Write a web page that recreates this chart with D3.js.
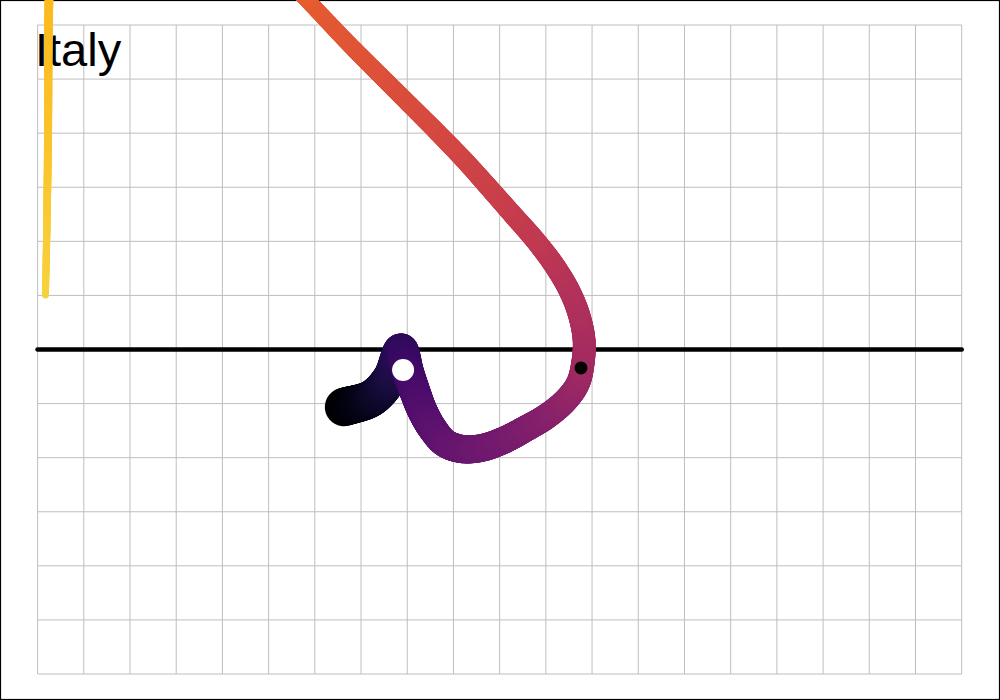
<!DOCTYPE html>
<html>
<head>
<meta charset="utf-8">
<script src="https://cdn.jsdelivr.net/npm/d3@7"></script>
<style>
  html, body { margin: 0; padding: 0; background: #ffffff; }
  svg { display: block; }
</style>
</head>
<body>
<svg id="chart" width="1000" height="700"></svg>
<script>
// ---- data (grid units) ----
const title = "Italy";
const gridX = d3.range(0, 21);          // vertical grid lines
const gridY = d3.range(-6, 7);          // horizontal grid lines
const zeroLine = [0];
// trajectory points (x, y) and their time position on the colour scale
const trajX = [6.632, 7.238, 7.628, 7.866, 8.017, 8.169, 8.320, 8.537, 8.818, 9.186, 9.597, 10.052, 10.550, 11.026, 11.437, 11.697, 11.805, 11.827, 11.719, 11.502, 11.177, 10.766, 10.290, 9.814, 9.251, 8.667, 7.736, 6.762, 5.831, 5.182, 4.165, 2.433, 0.918, 0.312, 0.247, 0.225, 0.203, 0.171];
const trajY = [-1.063, -0.897, -0.527, -0.009, -0.416, -0.786, -1.119, -1.452, -1.729, -1.840, -1.822, -1.692, -1.470, -1.230, -0.934, -0.620, -0.231, 0.176, 0.638, 1.100, 1.563, 2.025, 2.487, 2.949, 3.486, 4.003, 4.798, 5.630, 6.463, 7.018, 7.942, 8.866, 8.681, 7.572, 6.463, 3.929, 2.432, 1.008];
const trajT = [0.00, 0.05, 0.10, 0.15, 0.19, 0.215, 0.235, 0.255, 0.275, 0.29, 0.305, 0.32, 0.34, 0.36, 0.385, 0.41, 0.43, 0.445, 0.46, 0.475, 0.49, 0.51, 0.525, 0.54, 0.555, 0.57, 0.59, 0.61, 0.63, 0.66, 0.70, 0.75, 0.79, 0.82, 0.84, 0.86, 0.875, 0.89];
// marker dots
const markerX = [7.91, 11.76];
const markerY = [-0.38, -0.34];
const markerFill = ["#ffffff", "#000000"];
const markerR = [11, 6.5];

// ---- scales ----
const svg = d3.select("#chart");
const x = d3.scaleLinear().domain([0, 20]).range([37.6, 961.7]);
const y = d3.scaleLinear().domain([-6, 6]).range([674, 25]);
const colour = d3.interpolateInferno;
const width = d3.scaleLinear().domain([0, 0.89]).range([38.5, 6.9]).clamp(true);

// outer frame
svg.append("rect").attr("x", 0.5).attr("y", 0.5).attr("width", 999).attr("height", 699)
  .attr("fill", "#ffffff").attr("stroke", "#000000").attr("stroke-width", 1.2);

// grid
const grid = svg.append("g").attr("stroke", "#bebebe").attr("stroke-width", 1);
grid.selectAll("line.v").data(gridX).join("line").attr("class", "v")
  .attr("x1", d => x(d)).attr("x2", d => x(d)).attr("y1", y(6)).attr("y2", y(-6));
grid.selectAll("line.h").data(gridY).join("line").attr("class", "h")
  .attr("y1", d => y(d)).attr("y2", d => y(d)).attr("x1", x(0)).attr("x2", x(20));

// zero line
svg.selectAll("line.zero").data(zeroLine).join("line").attr("class", "zero")
  .attr("x1", x(0)).attr("x2", x(20)).attr("y1", d => y(d)).attr("y2", d => y(d))
  .attr("stroke", "#000000").attr("stroke-width", 4.6).attr("stroke-linecap", "round");

// title
svg.append("text").attr("x", 35).attr("y", 66).text(title)
  .attr("font-family", "'Liberation Sans', Arial, sans-serif").attr("font-size", 47).attr("fill", "#000000");

// trajectory: centripetal Catmull-Rom through the read points, drawn as short pieces
const pts = trajX.map((d, i) => [x(d), y(trajY[i]), trajT[i]]);
const n = pts.length;
const ext = (a, b) => [2 * a[0] - b[0], 2 * a[1] - b[1]];
const lerp = (a, b, ta, tb, t) => {
  const k = (t - ta) / (tb - ta);
  return [a[0] + (b[0] - a[0]) * k, a[1] + (b[1] - a[1]) * k];
};
function centripetal(P0, P1, P2, P3, u) {
  const d = (a, b) => Math.pow(Math.hypot(b[0] - a[0], b[1] - a[1]), 0.5) || 1e-6;
  const t0 = 0, t1 = t0 + d(P0, P1), t2 = t1 + d(P1, P2), t3 = t2 + d(P2, P3);
  const t = t1 + (t2 - t1) * u;
  const A1 = lerp(P0, P1, t0, t1, t), A2 = lerp(P1, P2, t1, t2, t), A3 = lerp(P2, P3, t2, t3, t);
  const B1 = lerp(A1, A2, t0, t2, t), B2 = lerp(A2, A3, t1, t3, t);
  return lerp(B1, B2, t1, t2, t);
}
const pieces = [];
for (let i = 0; i < n - 1; i++) {
  const p1 = pts[i], p2 = pts[i + 1];
  const p0 = i > 0 ? pts[i - 1] : ext(p1, p2);
  const p3 = i + 2 < n ? pts[i + 2] : ext(p2, p1);
  const L = Math.hypot(p2[0] - p1[0], p2[1] - p1[1]);
  const steps = Math.max(2, Math.ceil(L / 1.5));
  let prev = [p1[0], p1[1]];
  for (let s = 1; s <= steps; s++) {
    const u = s / steps;
    const cur = centripetal(p0, p1, p2, p3, u);
    const t = p1[2] + (p2[2] - p1[2]) * (u - 0.5 / steps);
    pieces.push({ x1: prev[0], y1: prev[1], x2: cur[0], y2: cur[1], t: t });
    prev = cur;
  }
}
svg.append("g").selectAll("line").data(pieces).join("line")
  .attr("x1", d => d.x1).attr("y1", d => d.y1).attr("x2", d => d.x2).attr("y2", d => d.y2)
  .attr("stroke", d => colour(d.t)).attr("stroke-width", d => width(d.t))
  .attr("stroke-linecap", "round");

// markers
svg.selectAll("circle.mk").data(markerX).join("circle").attr("class", "mk")
  .attr("cx", d => x(d)).attr("cy", (d, i) => y(markerY[i]))
  .attr("r", (d, i) => markerR[i]).attr("fill", (d, i) => markerFill[i]);
</script>
</body>
</html>
